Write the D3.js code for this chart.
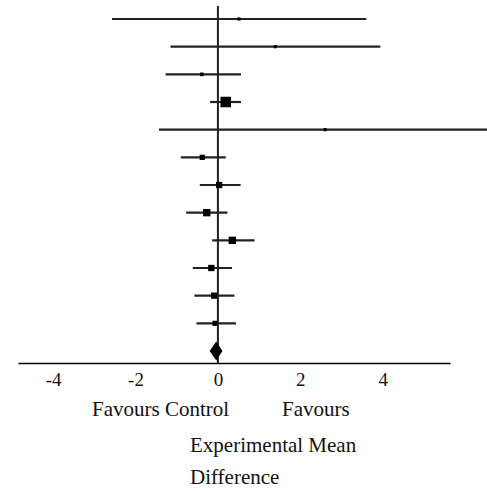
<!DOCTYPE html>
<html>
<head>
<meta charset="utf-8">
<script src="https://cdn.jsdelivr.net/npm/d3@7"></script>
<style>
  body { margin: 0; background: #fff; }
  svg { display: block; }
</style>
</head>
<body>
<div id="forest"></div>
<script>
// study rows (top to bottom), mean difference and 95% CI
var studies = ["s1", "s2", "s3", "s4", "s5", "s6", "s7", "s8", "s9", "s10", "s11", "s12"];
var est  = [0.51, 1.39, -0.39, 0.19, 2.6, -0.38, 0.03, -0.27, 0.35, -0.16, -0.09, -0.07];
var low  = [-2.57, -1.15, -1.27, -0.19, -1.43, -0.9, -0.44, -0.77, -0.14, -0.61, -0.57, -0.52];
var high = [3.6, 3.94, 0.56, 0.56, 7.5, 0.19, 0.55, 0.23, 0.89, 0.34, 0.4, 0.44];
var weights = [2.3, 2.3, 3.0, 25.3, 2.3, 6.3, 9.1, 12.4, 12.4, 9.1, 9.1, 6.3];

// pooled estimate
var pooled = {est: -0.04, low: -0.2, high: 0.11};

var ticks = [-4, -2, 0, 2, 4];

var W = 487, H = 491;
var serif = '"Liberation Serif", "Times New Roman", serif';

var svg = d3.select("#forest")
  .append("svg")
  .attr("width", W)
  .attr("height", H);

var x = d3.scaleLinear()
  .domain([-4.85, 5.63])
  .range([18, 450]);

var y = d3.scalePoint()
  .domain(studies.concat(["pooled"]))
  .range([19, 351]);

var size = d3.scaleSqrt()
  .domain([0, d3.max(weights)])
  .range([0, 10.5]);

var rows = studies.map((s, i) => ({id: s, est: est[i], low: low[i], high: high[i], w: weights[i]}));

var axisY = 363;

// line of no effect
svg.append("line")
  .attr("x1", x(0)).attr("x2", x(0))
  .attr("y1", 6).attr("y2", axisY)
  .attr("stroke", "#222")
  .attr("stroke-width", 2);

// confidence intervals
svg.append("g").selectAll("line")
  .data(rows)
  .enter()
  .append("line")
    .attr("x1", d => x(d.low))
    .attr("x2", d => x(d.high))
    .attr("y1", d => y(d.id))
    .attr("y2", d => y(d.id))
    .attr("stroke", "#222")
    .attr("stroke-width", 2.2);

// point estimates
svg.append("g").selectAll("rect")
  .data(rows)
  .enter()
  .append("rect")
    .attr("x", d => x(d.est) - size(d.w) / 2)
    .attr("y", d => y(d.id) - size(d.w) / 2)
    .attr("width", d => size(d.w))
    .attr("height", d => size(d.w))
    .attr("fill", "#000");

// pooled diamond
var py = y("pooled");
svg.append("path")
  .attr("d", `M${x(pooled.low)},${py} L${x(pooled.est)},${py - 9.5} L${x(pooled.high)},${py} L${x(pooled.est)},${py + 9.5} Z`)
  .attr("fill", "#000");

// x axis
var axis = svg.append("g")
  .attr("transform", `translate(0,${axisY})`)
  .call(d3.axisBottom(x).tickValues(ticks).tickSize(0).tickPadding(10).tickFormat(d3.format("d")));

axis.select(".domain")
  .attr("stroke", "#000")
  .attr("stroke-width", 1.5);

axis.selectAll("text")
  .style("font-family", serif)
  .style("font-size", "19px")
  .attr("fill", "#111")
  .text(d => d < 0 ? "-" + Math.abs(d) : d);

// labels under the axis
var labels = svg.append("g")
  .style("font-family", serif)
  .style("font-size", "21px")
  .attr("fill", "#111");

labels.append("text").attr("x", 92).attr("y", 416).text("Favours Control");
labels.append("text").attr("x", 282).attr("y", 416).text("Favours");
labels.append("text").attr("x", 190).attr("y", 452).text("Experimental Mean");
labels.append("text").attr("x", 190).attr("y", 484).text("Difference");
</script>
</body>
</html>
